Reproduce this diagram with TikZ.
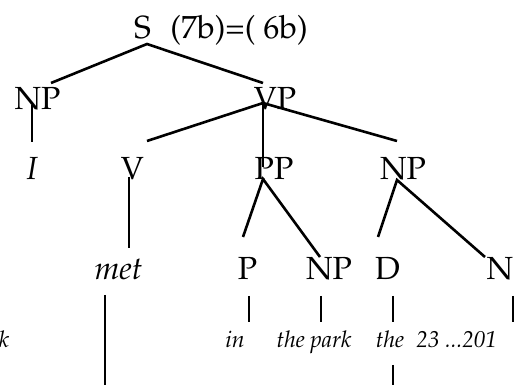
\documentclass[tikz,border=0pt]{standalone}
\usepackage[T1]{fontenc}
\usepackage{mathpazo}
\begin{document}
\begin{tikzpicture}[x=0.5pt,y=-0.5pt,
  lab/.style={inner sep=0pt,anchor=base,font=\fontsize{16}{19}\selectfont},
  wrd/.style={inner sep=0pt,anchor=base,font=\fontsize{11.5}{13}\selectfont\itshape},
  edge/.style={line width=1.3pt},
  vedge/.style={line width=1pt}]
\useasboundingbox (0,0) rectangle (515,385);
% labels
\node[lab] (S) at (142.5,39) {S};
\node[lab,anchor=base west] (Snote) at (170,39) {(7b)=( 6b)};
\node[lab] (NP1) at (37.5,110) {NP};
\node[lab] (VP) at (275,110) {VP};
\node[lab,font=\fontsize{16}{19}\selectfont\itshape] (I) at (32,180) {I};
\node[lab] (V) at (132.5,180) {V};
\node[lab] (PP) at (274,180) {PP};
\node[lab] (NP2) at (403,180) {NP};
\node[lab,font=\fontsize{16}{19}\selectfont\itshape] (met) at (118.5,279) {met};
\node[lab] (P) at (247.5,280) {P};
\node[lab] (NP3) at (329,280) {NP};
\node[lab] (D) at (387.5,280) {D};
\node[lab] (N) at (500,280) {N};
\node[wrd] (in) at (235,348) {in};
\node[wrd] (thepark) at (314,348) {the park};
\node[wrd] (the) at (390,348) {the};
\node[wrd,anchor=base west] (num) at (416,348) {23 ...201};
\node[wrd,anchor=base west] (k) at (-1.5,348) {k};
% attachment points
\coordinate (S-b) at (147,44);
\coordinate (NP1-t) at (51,83);
\coordinate (VP-t) at (263,83);
\coordinate (VP-b) at (263,103);
\coordinate (NP1-b) at (32,105);
\coordinate (I-t) at (32,142);
\coordinate (V-t) at (147,141);
\coordinate (V-b) at (129,177);
\coordinate (met-t) at (129,248);
\coordinate (PP-t) at (263,167);
\coordinate (NP2-t) at (397,141);
\coordinate (PP-b) at (263,179);
\coordinate (P-t) at (243,237);
\coordinate (NP3-t) at (320,257);
\coordinate (NP2-b) at (397,180);
\coordinate (D-t) at (378,237);
\coordinate (N-t) at (485,257);
\coordinate (P-b) at (249,296);
\coordinate (in-t) at (249,322);
\coordinate (NP3-b) at (321,296);
\coordinate (thepark-t) at (321,322);
\coordinate (D-b) at (393,296);
\coordinate (the-t) at (393,322);
\coordinate (N-b) at (513,296);
\coordinate (num-t) at (513,322);
\coordinate (met-b) at (105,295);
\coordinate (met-end) at (105,390);
\coordinate (the-b) at (393,365);
\coordinate (the-end) at (393,390);
% connectors
\draw[edge] (NP1-t) -- (S-b) -- (VP-t);
\draw[vedge] (NP1-b) -- (I-t);
\draw[edge] (V-t) -- (VP-b) -- (NP2-t);
\draw[vedge] (VP-b) -- (PP-t);
\draw[vedge] (V-b) -- (met-t);
\draw[edge] (P-t) -- (PP-b) -- (NP3-t);
\draw[edge] (D-t) -- (NP2-b) -- (N-t);
\draw[vedge] (P-b) -- (in-t);
\draw[vedge] (NP3-b) -- (thepark-t);
\draw[vedge] (D-b) -- (the-t);
\draw[vedge] (N-b) -- (num-t);
\draw[edge] (met-b) -- (met-end);
\draw[vedge] (the-b) -- (the-end);
\end{tikzpicture}
\end{document}
